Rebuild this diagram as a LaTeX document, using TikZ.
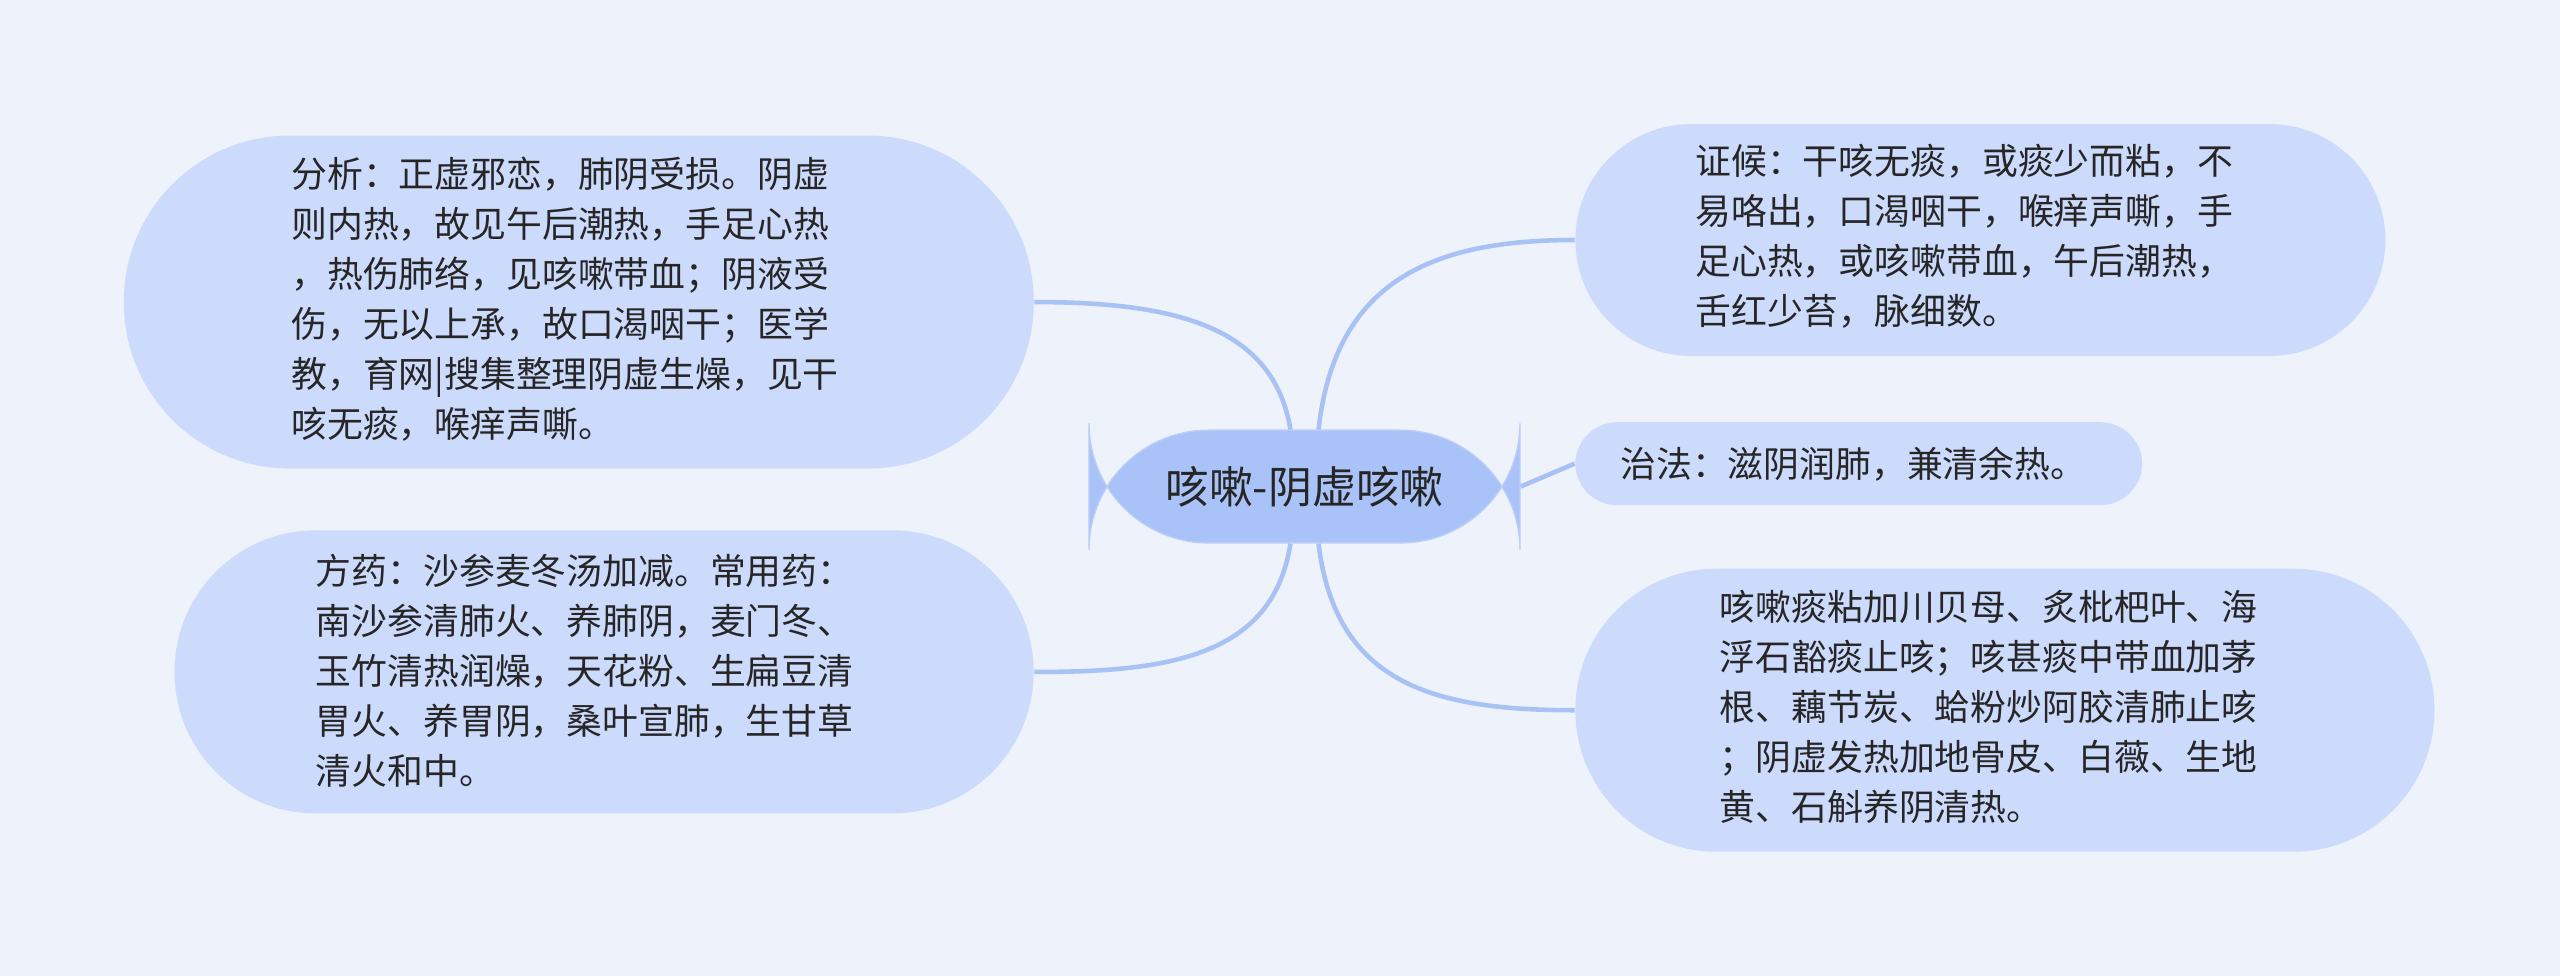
\documentclass[tikz,border=0pt]{standalone}
\usepackage{fontspec}
\setmainfont{Noto Sans CJK SC}
\begin{document}
\begin{tikzpicture}[x=0.01633cm,y=-0.01633cm,
  box/.style={fill=boxc,rounded corners=#1,inner sep=0pt},
  txt/.style={align=left,font=\fontsize{10.2}{14.2}\selectfont,text=black!85,inner sep=0pt},
  link/.style={draw=linec,line width=1.3pt}]
\definecolor{bg}{HTML}{EEF2FB}
\definecolor{boxc}{HTML}{CCDAFC}
\definecolor{cen}{HTML}{A9C2F7}
\definecolor{linec}{HTML}{A9C2F5}
\fill[bg] (0,0) rectangle (1568,598);
\useasboundingbox (0,0) rectangle (1568,598);
% boxes
\node[box=34pt,fill=cen,draw=linec!80,minimum width=264\pgflinewidth*0+4.31cm,minimum height=1.127cm] (c) at (799,298) {};
\node[font=\fontsize{12.5}{15}\selectfont,text=black!85] at (c) {咳嗽-阴虚咳嗽};
\node[box=1.66cm,minimum width=9.1cm,minimum height=3.33cm] (lt) at (354.5,185) {};
\node[txt,anchor=north west] at (178,96) {分析：正虚邪恋，肺阴受损。阴虚\\则内热，故见午后潮热，手足心热\\，热伤肺络，见咳嗽带血；阴液受\\伤，无以上承，故口渴咽干；医学\\教，育网|搜集整理阴虚生燥，见干\\咳无痰，喉痒声嘶。};
\node[box=1.41cm,minimum width=8.59cm,minimum height=2.83cm] (lb) at (370,411.5) {};
\node[txt,anchor=north west] at (193,339) {方药：沙参麦冬汤加减。常用药：\\南沙参清肺火、养肺阴，麦门冬、\\玉竹清热润燥，天花粉、生扁豆清\\胃火、养胃阴，桑叶宣肺，生甘草\\清火和中。};
\node[box=1.16cm,minimum width=8.1cm,minimum height=2.32cm] (rt) at (1213,147) {};
\node[txt,anchor=north west] at (1038,88) {证候：干咳无痰，或痰少而粘，不\\易咯出，口渴咽干，喉痒声嘶，手\\足心热，或咳嗽带血，午后潮热，\\舌红少苔，脉细数。};
\node[box=0.42cm,minimum width=5.67cm,minimum height=0.83cm] (rm) at (1138.5,284) {};
\node[txt,anchor=west] at (992,284) {治法：滋阴润肺，兼清余热。};
\node[box=1.41cm,minimum width=8.59cm,minimum height=2.83cm] (rb) at (1228,435) {};
\node[txt,anchor=north west] at (1053,361) {咳嗽痰粘加川贝母、炙枇杷叶、海\\浮石豁痰止咳；咳甚痰中带血加茅\\根、藕节炭、蛤粉炒阿胶清肺止咳\\；阴虚发热加地骨皮、白薇、生地\\黄、石斛养阴清热。};
% links
\draw[link] ([xshift=-4]c.north) .. controls (780,200) and (720,185) .. (lt.east);
\draw[link] ([xshift=-4]c.south) .. controls (780,400) and (720,412) .. (lb.east);
\draw[link] ([xshift=4]c.north) .. controls (818,170) and (880,147) .. (rt.west);
\draw[link] (c.east) -- (rm.west);
\draw[link] ([xshift=4]c.south) .. controls (818,420) and (880,435) .. (rb.west);
\end{tikzpicture}
\end{document}
